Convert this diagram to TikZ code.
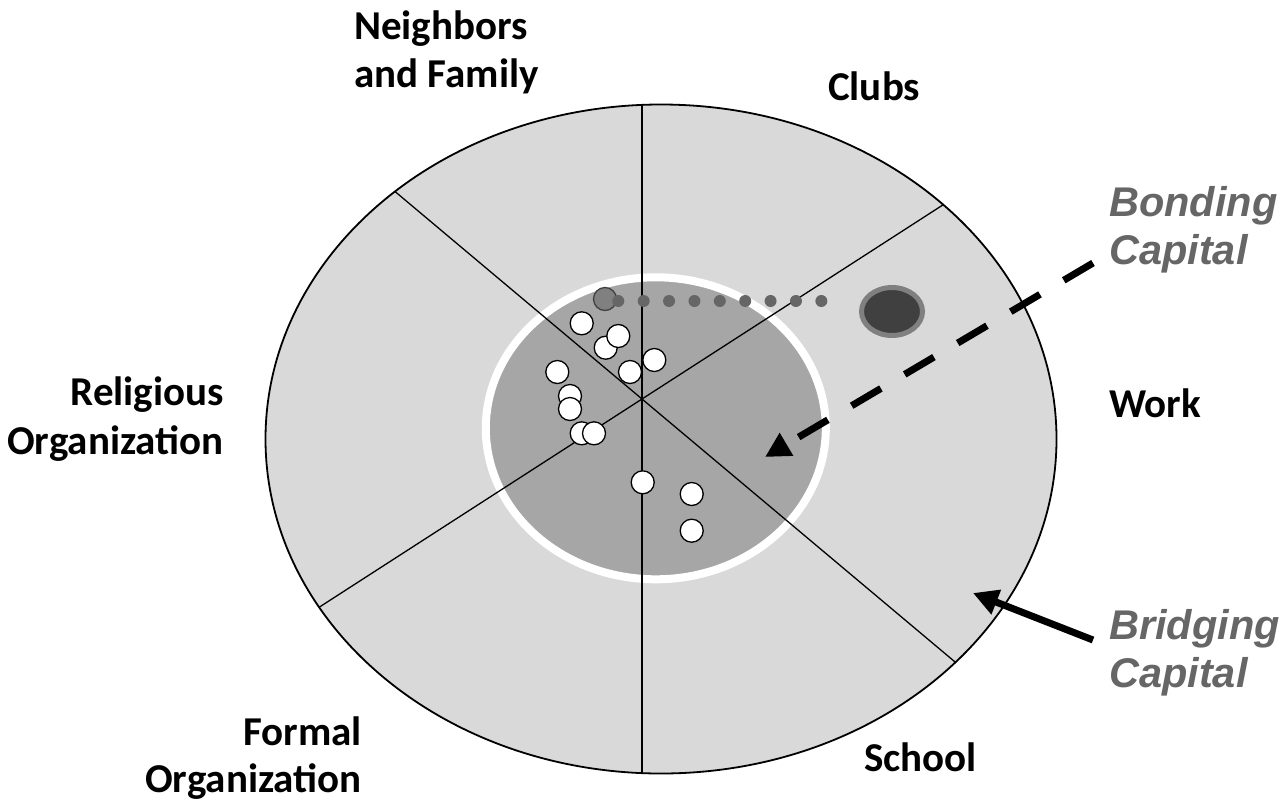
\documentclass[tikz,border=0pt]{standalone}
\usepackage{fontspec}
\newfontfamily\calfont{Carlito}
\newfontfamily\arfont{Liberation Sans}
\usetikzlibrary{arrows.meta,shapes.geometric}
\definecolor{outerfill}{HTML}{D9D9D9}
\definecolor{innerfill}{HTML}{A6A6A6}
\definecolor{capgray}{HTML}{666666}
\definecolor{dotgray}{HTML}{666666}
\definecolor{midgray}{HTML}{808080}
\definecolor{darkblob}{HTML}{404040}
\begin{document}
\begin{tikzpicture}[x=1pt,y=-1pt,
  sector/.style={line width=1.3pt, draw=black},
  member/.style={circle, draw=black, line width=1.3pt, fill=white, minimum size=23pt, inner sep=0pt},
  seglabel/.style={font=\calfont\bfseries\fontsize{41}{48}\selectfont, inner sep=0pt},
  caplabel/.style={font=\arfont\bfseries\itshape\fontsize{41.5}{48}\selectfont, text=capgray, inner sep=0pt},
  bigarrow/.style={line width=7pt, -{Triangle[length=25pt,width=25pt]}},
]
\useasboundingbox (0,0) rectangle (1287,801);
\fill[white] (0,0) rectangle (1287,801);

% outer and inner ellipses
\fill[outerfill] (661,439) ellipse [x radius=395.5, y radius=334.5];
\filldraw[fill=innerfill, draw=white, line width=8pt] (655.8,428.3) ellipse [x radius=170, y radius=151];

% sector lines
\coordinate (hub) at (642,399);
\coordinate (vtop) at (642,0);
\coordinate (vbot) at (642,801);
\coordinate (l1a) at (242,63);
\coordinate (l1b) at (1042,735);
\coordinate (l2a) at (242,657);
\coordinate (l2b) at (1042,141);
\begin{scope}
  \clip (661,439) ellipse [x radius=395.5, y radius=334.5];
  \draw[sector] (vtop) -- (vbot);
  \draw[sector] (l1a) -- (l1b);
  \draw[sector] (l2a) -- (l2b);
\end{scope}
\draw[line width=1.8pt] (661,439) ellipse [x radius=395.5, y radius=334.5];

% members
\node[member, fill=midgray, draw=darkblob] (m0) at (605,299) {};
\node[member] (m1) at (581.7,323.3) {};
\node[member] (m2) at (605.7,347.7) {};
\node[member] (m3) at (618.3,336) {};
\node[member] (m4) at (654.3,360) {};
\node[member] (m5) at (630,372) {};
\node[member] (m6) at (557.3,372) {};
\node[member] (m7) at (570,396) {};
\node[member] (m8) at (570,409) {};
\node[member] (m9) at (581.7,433.3) {};
\node[member] (m10) at (594,433.3) {};
\node[member] (m11) at (642.7,482.3) {};
\node[member] (m12) at (691.7,494) {};
\node[member] (m13) at (691.7,530.7) {};

% distant tie
\node[ellipse, fill=darkblob, draw=midgray, line width=5pt, minimum width=61pt, minimum height=48pt, inner sep=0pt] (blob) at (892,311.5) {};
\coordinate (dotA) at (618.3,301);
\coordinate (dotB) at (846.7,301);
\draw[dotgray, line width=12pt, line cap=round, dash pattern=on 0pt off 25.38pt] (dotA) -- (dotB);

% arrows
\coordinate (bondtail) at (1093,263);
\coordinate (bondtip) at (765,457);
\draw[bigarrow, dash pattern=on 34pt off 27.6pt] (bondtail) -- (bondtip);
\coordinate (bridgetail) at (1093,640);
\coordinate (bridgetip) at (973,593);
\draw[bigarrow] (bridgetail) -- (bridgetip);

% segment labels
\node[seglabel, anchor=base west] (nb1) at (354,39.3) {Neighbors};
\node[seglabel, anchor=base west] (nb2) at (354,87.3) {and Family};
\node[seglabel, anchor=base west] (clubs) at (828,100) {Clubs};
\node[seglabel, anchor=base west] (work) at (1109,417) {Work};
\node[seglabel, anchor=base west] (school) at (864,771) {School};
\node[seglabel, anchor=base east] (rel1) at (224,405) {Religious};
\node[seglabel, anchor=base east] (rel2) at (224,454) {Organization};
\node[seglabel, anchor=base east] (form1) at (362,745) {Formal};
\node[seglabel, anchor=base east] (form2) at (362,792) {Organization};

% capital labels
\node[caplabel, anchor=base west] (bond1) at (1109,216) {Bonding};
\node[caplabel, anchor=base west] (bond2) at (1109,264) {Capital};
\node[caplabel, anchor=base west] (bridge1) at (1109,639) {Bridging};
\node[caplabel, anchor=base west] (bridge2) at (1109,687) {Capital};
\end{tikzpicture}
\end{document}
